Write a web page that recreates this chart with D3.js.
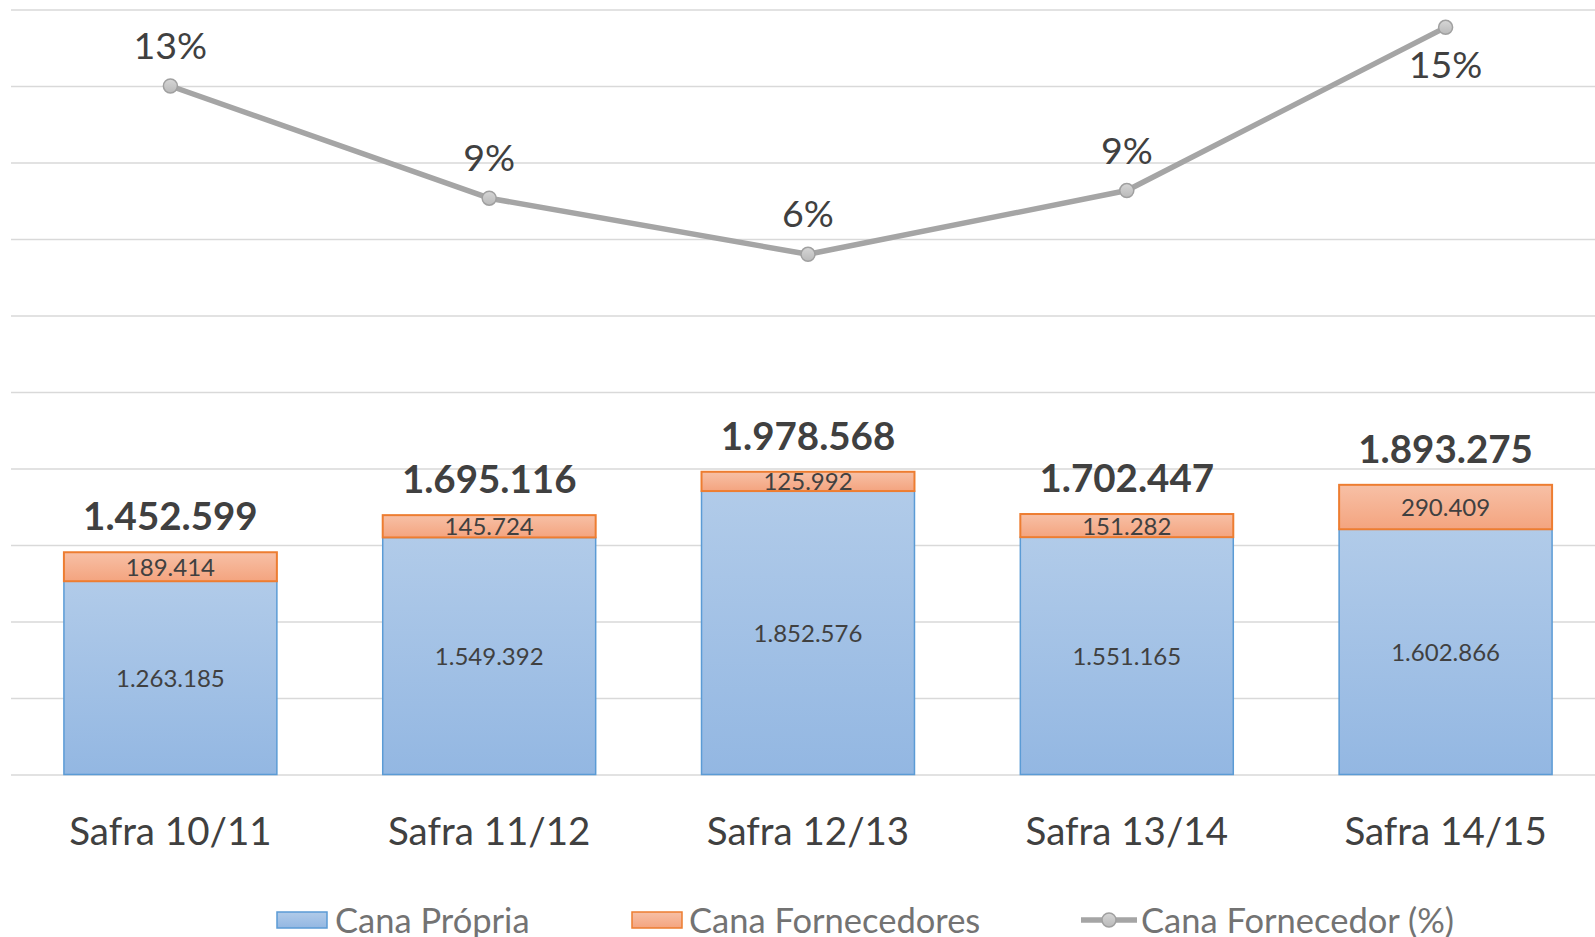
<!DOCTYPE html>
<html>
<head>
<meta charset="utf-8">
<script src="https://cdn.jsdelivr.net/npm/d3@7"></script>
<style>
  body { margin: 0; background: #fff; }
  text { font-family: Lato, "Open Sans", sans-serif; }
</style>
</head>
<body>
<div id="chart"></div>
<script>
const categories = ["Safra 10/11", "Safra 11/12", "Safra 12/13", "Safra 13/14", "Safra 14/15"];
const canaPropria = [1263185, 1549392, 1852576, 1551165, 1602866];
const canaFornecedores = [189414, 145724, 125992, 151282, 290409];
const fornecedorPct = [0.130, 0.086, 0.064, 0.089, 0.153];
const legendLabels = ["Cana Própria", "Cana Fornecedores", "Cana Fornecedor (%)"];

const width = 1595;
const height = 937;
const plotLeft = 11;
const plotTop = 9.5;
const plotBottom = 774.5;

const svg = d3
  .select("#chart")
  .append("svg")
  .attr("width", width)
  .attr("height", height);

const defs = svg.append("defs");
function gradient(id, top, bottom) {
  const g = defs.append("linearGradient").attr("id", id).attr("x1", 0).attr("y1", 0).attr("x2", 0).attr("y2", 1);
  g.append("stop").attr("offset", "0%").attr("stop-color", top);
  g.append("stop").attr("offset", "100%").attr("stop-color", bottom);
}
gradient("blueGrad", "#b1cbe9", "#93b7e2");
gradient("orangeGrad", "#f7c0a6", "#f4a47f");
gradient("markerGrad", "#d6d6d6", "#b9b9b9");

const fmt = d3.formatLocale({ decimal: ",", thousands: ".", grouping: [3], currency: ["R$", ""] }).format(",d");
const pctFmt = d3.format(".0%");

const data = categories.map((c, i) => ({
  cat: c,
  propria: canaPropria[i],
  forn: canaFornecedores[i],
  total: canaPropria[i] + canaFornecedores[i],
  pct: fornecedorPct[i]
}));

const x = d3.scaleBand().domain(categories).range([plotLeft, 1605]).paddingInner(0.332).paddingOuter(0.166);
const y = d3.scaleLinear().domain([0, 5000000]).range([plotBottom, plotTop]);
const y2 = d3.scaleLinear().domain([-0.14, 0.16]).range([plotBottom, plotTop]);

// gridlines
const yGrid = d3.axisLeft(y).tickValues(d3.range(0, 5000001, 500000)).tickSize(-(width - plotLeft)).tickFormat("");
const grid = svg.append("g").attr("transform", `translate(${plotLeft},0)`).call(yGrid);
grid.select(".domain").remove();
grid.selectAll("line").attr("stroke", "#d9d9d9").attr("stroke-width", 1.4);

// stacked bars
svg
  .selectAll("rect.propria")
  .data(data)
  .join("rect")
  .attr("class", "propria")
  .attr("x", (d) => x(d.cat))
  .attr("y", (d) => y(d.propria))
  .attr("width", x.bandwidth())
  .attr("height", (d) => y(0) - y(d.propria))
  .attr("fill", "url(#blueGrad)")
  .attr("stroke", "#5b9bd5")
  .attr("stroke-width", 1.5);

svg
  .selectAll("rect.forn")
  .data(data)
  .join("rect")
  .attr("class", "forn")
  .attr("x", (d) => x(d.cat))
  .attr("y", (d) => y(d.total))
  .attr("width", x.bandwidth())
  .attr("height", (d) => y(d.propria) - y(d.total))
  .attr("fill", "url(#orangeGrad)")
  .attr("stroke", "#ed7d31")
  .attr("stroke-width", 2);

// bar labels
const cx = (d) => x(d.cat) + x.bandwidth() / 2;
svg
  .selectAll("text.propria-label")
  .data(data)
  .join("text")
  .attr("x", cx)
  .attr("y", (d) => (y(0) + y(d.propria)) / 2 + 9)
  .attr("text-anchor", "middle")
  .attr("font-size", 24)
  .attr("fill", "#404040")
  .text((d) => fmt(d.propria));

svg
  .selectAll("text.forn-label")
  .data(data)
  .join("text")
  .attr("x", cx)
  .attr("y", (d) => (y(d.propria) + y(d.total)) / 2 + 9)
  .attr("text-anchor", "middle")
  .attr("font-size", 24)
  .attr("fill", "#404040")
  .text((d) => fmt(d.forn));

svg
  .selectAll("text.total-label")
  .data(data)
  .join("text")
  .attr("x", cx)
  .attr("y", (d) => y(d.total) - 22)
  .attr("text-anchor", "middle")
  .attr("font-size", 38.5)
  .attr("font-weight", 700)
  .attr("fill", "#404040")
  .text((d) => fmt(d.total));

// category axis labels
svg
  .selectAll("text.cat")
  .data(categories)
  .join("text")
  .attr("x", (d) => x(d) + x.bandwidth() / 2)
  .attr("y", 845)
  .attr("text-anchor", "middle")
  .attr("font-size", 38.5)
  .attr("fill", "#404040")
  .text((d) => d);

// percent line
const line = d3.line().x(cx).y((d) => y2(d.pct));
svg
  .append("path")
  .datum(data)
  .attr("d", line)
  .attr("fill", "none")
  .attr("stroke", "#a5a5a5")
  .attr("stroke-width", 5.5)
  .attr("stroke-linejoin", "round");

svg
  .selectAll("circle.pt")
  .data(data)
  .join("circle")
  .attr("cx", cx)
  .attr("cy", (d) => y2(d.pct))
  .attr("r", 7)
  .attr("fill", "url(#markerGrad)")
  .attr("stroke", "#a0a0a0")
  .attr("stroke-width", 1.5);

svg
  .selectAll("text.pct")
  .data(data)
  .join("text")
  .attr("x", cx)
  .attr("y", (d) => (y2(d.pct) - 60 < 0 ? y2(d.pct) + 51 : y2(d.pct) - 27))
  .attr("text-anchor", "middle")
  .attr("font-size", 37.5)
  .attr("fill", "#404040")
  .text((d) => pctFmt(d.pct));

// legend
const legendY = 920;
const legendFont = 34.5;
const legend = svg.append("g");
const item0 = legend.append("g").attr("transform", "translate(277,0)");
item0.append("rect").attr("x", 0).attr("y", legendY - 8).attr("width", 50).attr("height", 16)
  .attr("fill", "url(#blueGrad)").attr("stroke", "#5b9bd5").attr("stroke-width", 1.5);
item0.append("text").attr("x", 58).attr("y", legendY + 13).attr("font-size", legendFont).attr("fill", "#737373").text(legendLabels[0]);

const item1 = legend.append("g").attr("transform", "translate(632,0)");
item1.append("rect").attr("x", 0).attr("y", legendY - 8).attr("width", 50).attr("height", 16)
  .attr("fill", "url(#orangeGrad)").attr("stroke", "#ed7d31").attr("stroke-width", 1.5);
item1.append("text").attr("x", 57).attr("y", legendY + 13).attr("font-size", legendFont).attr("fill", "#737373").text(legendLabels[1]);

const item2 = legend.append("g").attr("transform", "translate(1081,0)");
item2.append("line").attr("x1", 0).attr("x2", 56).attr("y1", legendY).attr("y2", legendY)
  .attr("stroke", "#a5a5a5").attr("stroke-width", 5.5);
item2.append("circle").attr("cx", 28).attr("cy", legendY).attr("r", 7)
  .attr("fill", "url(#markerGrad)").attr("stroke", "#a0a0a0").attr("stroke-width", 1.5);
item2.append("text").attr("x", 60).attr("y", legendY + 13).attr("font-size", legendFont).attr("fill", "#737373").text(legendLabels[2]);
</script>
</body>
</html>
